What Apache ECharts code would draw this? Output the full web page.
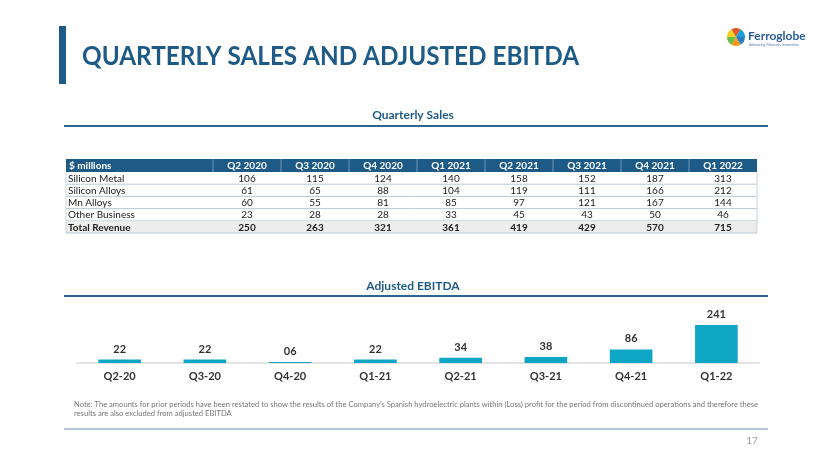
<!DOCTYPE html>
<html><head><meta charset="utf-8">
<script src="https://cdn.jsdelivr.net/npm/echarts@6/dist/echarts.min.js"></script>
<style>html,body{margin:0;padding:0;background:#fff}#c{width:830px;height:467px}</style>
</head><body><div id="c"></div>
<script>
// ---- data ----
const tableHeaders = ['$ millions','Q2 2020','Q3 2020','Q4 2020','Q1 2021','Q2 2021','Q3 2021','Q4 2021','Q1 2022'];
const rowLabels = ['Silicon Metal','Silicon Alloys','Mn Alloys','Other Business','Total Revenue'];
const siliconMetal = [106,115,124,140,158,152,187,313];
const siliconAlloys = [61,65,88,104,119,111,166,212];
const mnAlloys = [60,55,81,85,97,121,167,144];
const otherBusiness = [23,28,28,33,45,43,50,46];
const totalRevenue = [250,263,321,361,419,429,570,715];
const ebitdaCategories = ['Q2-20','Q3-20','Q4-20','Q1-21','Q2-21','Q3-21','Q4-21','Q1-22'];
const ebitdaValues = [22,22,6,22,34,38,86,241];
const titleText = 'QUARTERLY SALES AND ADJUSTED EBITDA';
const noteText = ['Note: The amounts for prior periods have been restated to show the results of the Company\u2019s Spanish hydroelectric plants within (Loss) profit for the period from discontinued operations and therefore these','results are also excluded from adjusted EBITDA'];

// ---- styles ----
const navy = '#1d5b86';
const font = 'Lato, "Open Sans", sans-serif';

const g = [];
// title bar & title
g.push({type:'rect', shape:{x:59,y:26,width:7,height:58}, style:{fill:navy}});
g.push({type:'text', x:82, y:56, scaleX:0.9, originX:0, originY:0, style:{text:titleText, fill:navy, font:'bold 27px '+font, textVerticalAlign:'middle'}});
// logo
const logoColors = ['#2a7fc1','#f39a1e','#6cbd45','#f6d024','#e2562b','#1aa0d8'];
for (let i=0;i<6;i++){
  g.push({type:'sector', shape:{cx:736,cy:37,r0:0,r:9,startAngle:i*Math.PI/3,endAngle:(i+1)*Math.PI/3}, style:{fill:logoColors[i]}});
}
g.push({type:'text', x:748, y:36, style:{text:'Ferroglobe', fill:'#2a5d9a', font:'bold 12px '+font, textVerticalAlign:'middle'}});
g.push({type:'text', x:749, y:45, style:{text:'Advancing Materials Innovation', fill:'#5577aa', font:'3.6px '+font, textVerticalAlign:'middle'}});

// section headings
function heading(txt, y, ly){
  g.push({type:'text', x:413, y:y, style:{text:txt, fill:navy, font:'bold 12px '+font, textAlign:'center', textVerticalAlign:'middle'}});
  g.push({type:'line', shape:{x1:64,y1:ly,x2:768,y2:ly}, style:{stroke:'#2f6690', lineWidth:2}});
}
heading('Quarterly Sales', 115, 126);
heading('Adjusted EBITDA', 286, 296);

// table
const tx0 = 66, labelW = 147, colW = 68, headTop = 159, headH = 13, rowH = 12.2;
const tRight = tx0 + labelW + colW*8;
const rows = [siliconMetal, siliconAlloys, mnAlloys, otherBusiness, totalRevenue];
const tFont = '10px '+font;
g.push({type:'rect', shape:{x:tx0,y:headTop,width:tRight-tx0,height:headH}, style:{fill:navy}});
tableHeaders.forEach((h,i)=>{
  const isLabel = i===0;
  const cx = isLabel ? tx0+3 : tx0+labelW+colW*(i-1)+colW/2;
  g.push({type:'text', x:cx, y:headTop+headH/2+0.5, style:{text:h, fill:'#fff', font:'bold '+tFont, textAlign:isLabel?'left':'center', textVerticalAlign:'middle'}});
  if (i>0) g.push({type:'line', shape:{x1:tx0+labelW+colW*(i-1),y1:headTop,x2:tx0+labelW+colW*(i-1),y2:headTop+headH}, style:{stroke:'#6f97b5', lineWidth:1}});
});
rows.forEach((r,ri)=>{
  const y0 = headTop+headH+rowH*ri;
  const isTotal = ri===rows.length-1;
  if (isTotal) g.push({type:'rect', shape:{x:tx0,y:y0,width:tRight-tx0,height:rowH}, style:{fill:'#ededed'}});
  g.push({type:'line', shape:{x1:tx0,y1:y0+rowH,x2:tRight,y2:y0+rowH}, style:{stroke:'#b9c9d6', lineWidth:1}});
  g.push({type:'text', x:tx0+2, y:y0+rowH/2+0.5, style:{text:rowLabels[ri], fill:'#222', font:(isTotal?'bold ':'')+tFont, textVerticalAlign:'middle'}});
  r.forEach((v,ci)=>{
    g.push({type:'text', x:tx0+labelW+colW*ci+colW/2, y:y0+rowH/2+0.5, style:{text:String(v), fill:'#222', font:(isTotal?'bold ':'')+tFont, textAlign:'center', textVerticalAlign:'middle'}});
  });
});
const tBottom = headTop+headH+rowH*rows.length;
g.push({type:'line', shape:{x1:tx0,y1:headTop+headH,x2:tx0,y2:tBottom}, style:{stroke:'#c9d5de', lineWidth:1}});
g.push({type:'line', shape:{x1:tRight,y1:headTop+headH,x2:tRight,y2:tBottom}, style:{stroke:'#c9d5de', lineWidth:1}});

// note
noteText.forEach((t,i)=>{
  g.push({type:'text', x:74, y:405+i*9, style:{text:t, fill:'#777', font:'7.6px '+font, textVerticalAlign:'middle'}});
});
g.push({type:'line', shape:{x1:64,y1:429,x2:768,y2:429}, style:{stroke:'#6a8fae', lineWidth:1}});
g.push({type:'text', x:752, y:441, style:{text:'17', fill:'#9a9a9a', font:'10px '+font, textAlign:'center', textVerticalAlign:'middle'}});

const chart = echarts.init(document.getElementById('c'));
chart.setOption({
  animation:false,
  grid:{left:77, right:71, top:325, height:38},
  xAxis:{type:'category', data:ebitdaCategories,
    axisLine:{lineStyle:{color:'#e3e3e3', width:2}}, axisTick:{show:false},
    axisLabel:{color:'#333', fontFamily:'Lato', fontWeight:'bold', fontSize:11, margin:8}},
  yAxis:{type:'value', min:0, max:241, show:false, splitLine:{show:false}},
  series:[{type:'bar', data:ebitdaValues, barWidth:'50%', itemStyle:{color:'#0fa6c6'},
    label:{show:true, position:'top', distance:5, color:'#333', fontFamily:'Lato', fontWeight:'bold', fontSize:11,
      formatter:p=>String(p.value).padStart(2,'0')}}],
  graphic:g
});
</script></body></html>
